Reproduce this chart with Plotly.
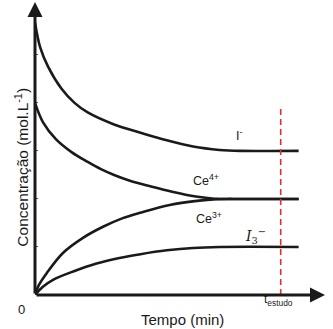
import plotly.graph_objects as go

# Concentration vs time (arbitrary units)
t_iodide = [0, 0.2, 0.5, 1.0, 1.5, 2.0, 3.0, 4.0, 5.0, 6.0, 7.0, 7.8, 10.0]
c_iodide = [5.67, 5.15, 4.75, 4.30, 4.00, 3.80, 3.55, 3.38, 3.22, 3.09, 3.02, 3.0, 3.0]

t_ce4 = [0, 0.3, 0.8, 1.4, 2.0, 2.5, 3.0, 3.6, 4.4, 5.2, 6.1, 6.8, 7.5, 10.0]
c_ce4 = [4.0, 3.60, 3.24, 2.97, 2.77, 2.62, 2.50, 2.38, 2.26, 2.15, 2.05, 2.005, 2.0, 2.0]

t_ce3 = [0, 0.15, 0.45, 1.06, 1.82, 2.58, 3.33, 3.98, 5.11, 6.14, 6.9, 7.5, 10.0]
c_ce3 = [0, 0.21, 0.46, 0.875, 1.19, 1.42, 1.60, 1.71, 1.875, 1.96, 1.995, 2.0, 2.0]

t_tri = [0, 0.3, 0.7, 1.5, 2.3, 3.2, 4.0, 5.0, 6.0, 7.0, 10.0]
c_tri = [0, 0.17, 0.32, 0.50, 0.65, 0.77, 0.85, 0.93, 0.98, 1.0, 1.0]

t_estudo = 9.32
y_ticks = [1, 2, 3, 4, 5]

X_MAX = 11.0
Y_MAX = 6.1
FONT = "Liberation Sans, Arial, sans-serif"
INK = "#1a1a1a"

fig = go.Figure()
for tx, cy in [(t_iodide, c_iodide), (t_ce4, c_ce4), (t_ce3, c_ce3), (t_tri, c_tri)]:
    fig.add_trace(go.Scatter(
        x=tx, y=cy, mode="lines",
        line=dict(color=INK, width=2.6, shape="spline", smoothing=1.0),
        showlegend=False, hoverinfo="skip",
    ))

# study time marker
fig.add_trace(go.Scatter(
    x=[t_estudo, t_estudo], y=[0, 3.92], mode="lines",
    line=dict(color="#e0302e", width=1.6, dash="6px,4px"),
    showlegend=False, hoverinfo="skip",
))


def paper_text(x, y, text, size, angle=0):
    return dict(x=x, y=y, xref="paper", yref="paper", xanchor="center", yanchor="middle",
                text=text, textangle=angle, showarrow=False,
                font=dict(family=FONT, size=size, color=INK))


annotations = [
    # axes with arrowheads
    dict(x=X_MAX, y=0, ax=0, ay=0, xref="x", yref="y", axref="x", ayref="y",
         showarrow=True, arrowhead=2, arrowsize=1, arrowwidth=3, arrowcolor=INK, text=""),
    dict(x=0, y=Y_MAX, ax=0, ay=0, xref="x", yref="y", axref="x", ayref="y",
         showarrow=True, arrowhead=2, arrowsize=1, arrowwidth=3, arrowcolor=INK, text=""),
    # species labels
    dict(x=7.75, y=3.33, xref="x", yref="y", text="I<sup>-</sup>", showarrow=False,
         font=dict(family=FONT, size=12.5, color=INK)),
    dict(x=6.5, y=2.4, xref="x", yref="y", text="Ce<sup>4+</sup>", showarrow=False,
         font=dict(family=FONT, size=12.5, color=INK)),
    dict(x=6.6, y=1.6, xref="x", yref="y", text="Ce<sup>3+</sup>", showarrow=False,
         font=dict(family=FONT, size=12.5, color=INK)),
    dict(x=8.35, y=1.22, xref="x", yref="y", text="<i>I</i><sub>3</sub><sup>−</sup>", showarrow=False,
         font=dict(family="DejaVu Serif, serif", size=14, color=INK)),
    # axis texts
    paper_text(0.838, -0.018, "t<sub>estudo</sub>", 12),
    paper_text(-0.045, -0.051, "0", 13),
    paper_text(0.507, -0.085, "Tempo (min)", 15),
    paper_text(-0.048, 0.435, "Concentração (mol.L<sup>-1</sup>)", 15.5, angle=-90),
]

fig.update_layout(
    width=333, height=329,
    margin=dict(l=35, r=8, t=2, b=34),
    paper_bgcolor="white", plot_bgcolor="white",
    annotations=annotations,
    xaxis=dict(range=[0, X_MAX], showgrid=False, zeroline=False, showline=False,
               showticklabels=False, ticks=""),
    yaxis=dict(range=[0, Y_MAX], showgrid=False, zeroline=False, showline=False,
               tickvals=y_ticks, ticks="inside", ticklen=3, tickwidth=1.2,
               tickcolor="#555", showticklabels=False),
)

fig.write_html("out.html")
